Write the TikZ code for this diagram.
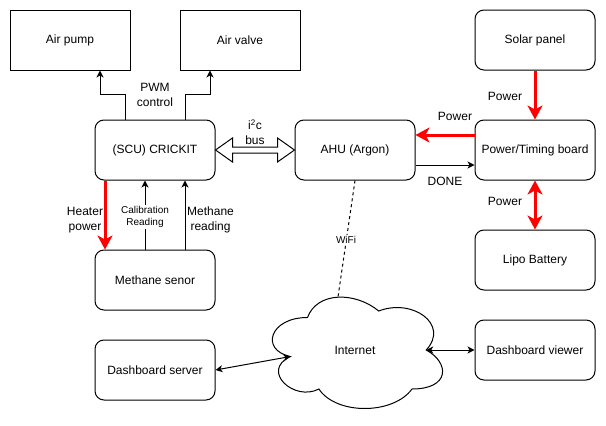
\documentclass[tikz,border=0pt]{standalone}
\usepackage{fontspec}
\setmainfont{Liberation Sans}
\usetikzlibrary{arrows.meta,calc}
\begin{document}
\begin{tikzpicture}[x=1pt,y=-1pt,
  box/.style={draw, line width=1pt, minimum width=120pt, minimum height=60pt, inner sep=0pt, font=\fontsize{12}{14}\selectfont},
  rbox/.style={box, rounded corners=9pt},
  lbl/.style={font=\fontsize{12}{14.5}\selectfont, align=center, inner sep=1pt},
  slbl/.style={font=\fontsize{10}{12.5}\selectfont, align=center, inner sep=1pt, fill=white},
  arr/.style={draw, line width=1pt, -{Stealth[length=7pt,width=7pt,inset=2pt]}},
  darr/.style={draw, line width=1pt, {Stealth[length=7pt,width=7pt,inset=2pt]}-{Stealth[length=7pt,width=7pt,inset=2pt]}},
  redarr/.style={draw=red, line width=3pt, -{Stealth[length=14pt,width=15pt,inset=4pt]}},
  reddarr/.style={draw=red, line width=3pt, {Stealth[length=14pt,width=15pt,inset=4pt]}-{Stealth[length=14pt,width=15pt,inset=4pt]}},
]
\useasboundingbox (0,0) rectangle (606,426);

% boxes
\node[box]  (pump)    at (70,40)   {Air pump};
\node[box]  (valve)   at (240,40)  {Air valve};
\node[rbox] (solar)   at (535,40)  {Solar panel};
\node[rbox] (crickit) at (155,150) {(SCU) CRICKIT};
\node[rbox] (ahu)     at (355,150) {AHU (Argon)};
\node[rbox] (power)   at (535,150) {Power/Timing board};
\node[rbox] (methane) at (155,280) {Methane senor};
\node[rbox] (lipo)    at (535,260) {Lipo Battery};
\node[rbox] (server)  at (155,370) {Dashboard server};
\node[rbox] (viewer)  at (535,350) {Dashboard viewer};

% cloud
\draw[line width=1pt] (307.5,317.5)
  .. controls (269.5,317.5) and (260,350) .. (290.4,356.5)
  .. controls (260,370.8) and (294.2,402) .. (318.9,389)
  .. controls (336,415) and (393,415) .. (412,389)
  .. controls (450,389) and (450,363) .. (426.25,350)
  .. controls (450,324) and (412,298) .. (378.75,311)
  .. controls (355,291.5) and (317,291.5) .. (307.5,317.5) -- cycle;
\node[lbl] (inet) at (355,350) {Internet};
\coordinate (cloudL) at (290.4,356.5);
\coordinate (cloudR) at (426.25,350);
\coordinate (cloudT) at (338,297);

% PWM control
\draw[arr] ([xshift=-30pt]crickit.north) -- ++(0,-25) -| ([xshift=30pt]pump.south);
\draw[arr] ([xshift=30pt]crickit.north) -- ++(0,-25) -| ([xshift=-30pt]valve.south);
\node[lbl] (pwm) at (155,95) {PWM\\control};

% i2c bus
\draw[line width=1pt, fill=white] (crickit.east)
  -- ($(crickit.east)+(17,-12)$) -- ($(crickit.east)+(17,-3)$)
  -- ($(ahu.west)+(-17,-3)$) -- ($(ahu.west)+(-17,-12)$)
  -- (ahu.west)
  -- ($(ahu.west)+(-17,12)$) -- ($(ahu.west)+(-17,3)$)
  -- ($(crickit.east)+(17,3)$) -- ($(crickit.east)+(17,12)$) -- cycle;
\node[lbl] (i2c) at (255,132) {i\textsuperscript{2}c\\bus};

% power connections
\draw[redarr] ([yshift=15pt]power.west) -- ([yshift=15pt]ahu.east);
\node[lbl] (pwrA) at (455,116) {Power};
\draw[arr] ([yshift=-15pt]ahu.east) -- ([yshift=-15pt]power.west);
\node[lbl] (done) at (445,181) {DONE};
\draw[redarr] (solar.south) -- (power.north);
\node[lbl] (pwrS) at (505,96) {Power};
\draw[reddarr] (power.south) -- (lipo.north);
\node[lbl] (pwrL) at (505,201) {Power};

% methane sensor
\draw[redarr] ([xshift=-50pt]crickit.south) -- ([xshift=-50pt]methane.north);
\node[lbl] (heat) at (85,220) {Heater\\power};
\draw[arr] ([xshift=-10pt]methane.north) -- ([xshift=-10pt]crickit.south);
\node[slbl] (calib) at (145,217) {Calibration\\Reading};
\draw[arr] ([xshift=30pt]methane.north) -- ([xshift=30pt]crickit.south);
\node[lbl, anchor=west] (mread) at (186,220) {Methane\\reading};

% network
\draw[line width=1pt, dash pattern=on 3pt off 3pt] (ahu.south) -- (cloudT);
\node[slbl] (wifi) at (346,240) {WiFi};
\draw[darr] (cloudL) -- (server.east);
\draw[darr] (cloudR) -- (viewer.west);
\end{tikzpicture}
\end{document}
